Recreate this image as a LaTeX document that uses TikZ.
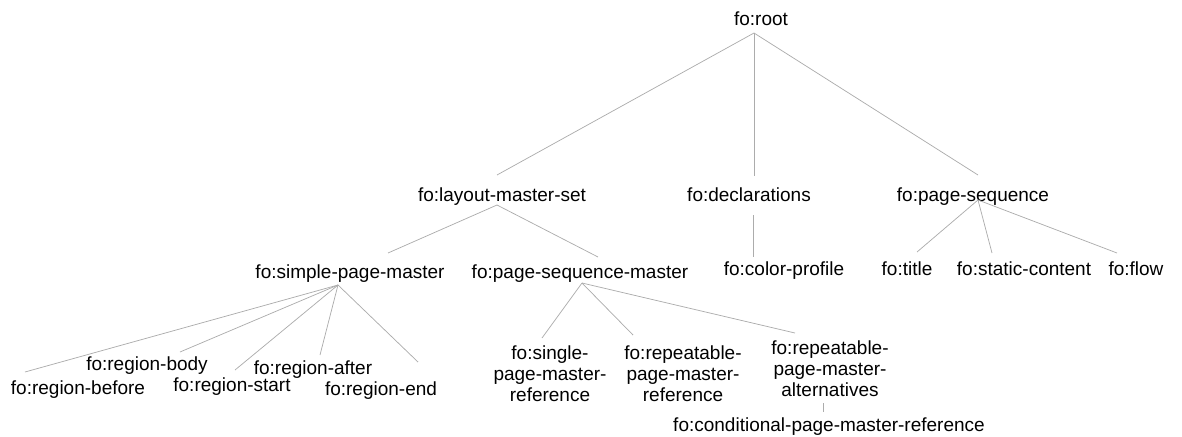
\documentclass[tikz,border=0pt]{standalone}
\usepackage{fontspec}
\setmainfont{Liberation Sans}
\begin{document}
\begin{tikzpicture}[x=0.75pt, y=-0.75pt, tag/.style={inner sep=0pt, anchor=base, align=center}, edge/.style={draw=gray!65, line width=0.55pt}, font=\fontsize{14.25}{15.4}\selectfont]
	\useasboundingbox (0,0) rectangle (1182,436);
	% element nodes
	\node[tag] (root) at (761,25) {fo:root};
	\node[tag] (lms) at (502,201) {fo:layout-master-set};
	\node[tag] (decl) at (749,201) {fo:declarations};
	\node[tag] (ps) at (973,201) {fo:page-sequence};
	\node[tag] (spm) at (350,278) {fo:simple-page-master};
	\node[tag] (psm) at (580,278) {fo:page-sequence-master};
	\node[tag] (cp) at (784,275) {fo:color-profile};
	\node[tag] (title) at (907,275) {fo:title};
	\node[tag] (static) at (1024,275) {fo:static-content};
	\node[tag] (flow) at (1136,275) {fo:flow};
	\node[tag] (rbefore) at (78,394) {fo:region-before};
	\node[tag] (rbody) at (147,370) {fo:region-body};
	\node[tag] (rstart) at (232,391) {fo:region-start};
	\node[tag] (rafter) at (313,374) {fo:region-after};
	\node[tag] (rend) at (381,395) {fo:region-end};
	\node[tag] (single) at (550,401) {fo:single-\\page-master-\\reference};
	\node[tag] (repeat) at (683,401) {fo:repeatable-\\page-master-\\reference};
	\node[tag] (alt) at (830,396) {fo:repeatable-\\page-master-\\alternatives};
	\node[tag] (cond) at (829,431) {fo:conditional-page-master-reference};
	% where the lines leave the parents
	\coordinate (root-a) at ([shift={(-7,8)}]root.base);
	\coordinate (lms-a) at ([shift={(-5,4)}]lms.base);
	\coordinate (decl-a) at ([shift={(4,14)}]decl.base);
	\coordinate (ps-a) at ([shift={(5,-1)}]ps.base);
	\coordinate (spm-a) at ([shift={(-12,7)}]spm.base);
	\coordinate (psm-a) at ([shift={(2,5)}]psm.base);
	\coordinate (alt-a) at ([shift={(-7,7)}]alt.base);
	% tree lines
	\foreach \c/\dx/\dy in {lms/-5/-26, decl/5/-25, ps/5/-26}
		\draw[edge] (root-a) -- ([shift={(\dx,\dy)}]\c.base);
	\foreach \c/\dx/\dy in {spm/38/-25, psm/18/-21}
		\draw[edge] (lms-a) -- ([shift={(\dx,\dy)}]\c.base);
	\draw[edge] (decl-a) -- ([shift={(-31,-18)}]cp.base);
	\foreach \c/\dx/\dy in {title/10/-23, static/-32/-22, flow/-19/-22}
		\draw[edge] (ps-a) -- ([shift={(\dx,\dy)}]\c.base);
	\foreach \c/\dx/\dy in {rbefore/-53/-22, rbody/33/-18, rstart/3/-21, rafter/7/-19, rend/37/-33}
		\draw[edge] (spm-a) -- ([shift={(\dx,\dy)}]\c.base);
	\foreach \c/\dx/\dy in {single/-8/-63, repeat/-50/-66, alt/-35/-63}
		\draw[edge] (psm-a) -- ([shift={(\dx,\dy)}]\c.base);
	\draw[edge] (alt-a) -- ([shift={(-6,-19)}]cond.base);
\end{tikzpicture}
\end{document}
